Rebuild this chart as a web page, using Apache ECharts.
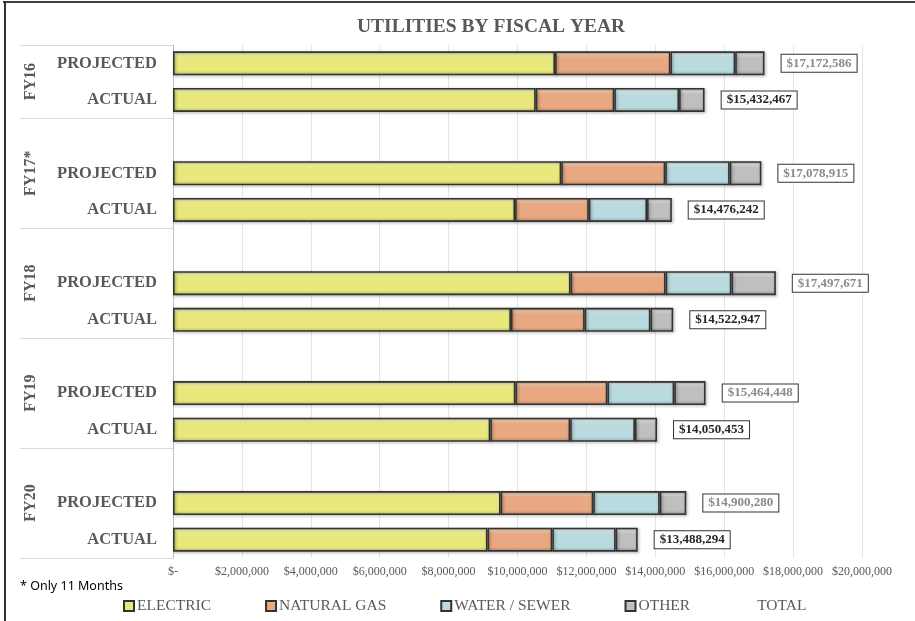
<!DOCTYPE html>
<html>
<head>
<meta charset="utf-8">
<script src="https://cdn.jsdelivr.net/npm/echarts@6/dist/echarts.min.js"></script>
<style>
  html, body { margin: 0; padding: 0; background: #fff; }
  #chart { width: 915px; height: 621px; }
</style>
</head>
<body>
<div id="chart"></div>
<script>
// ---- Data (row order: FY16 P, FY16 A, FY17 P, FY17 A, ... FY20 A) ----
const years = ['FY16', 'FY17*', 'FY18', 'FY19', 'FY20'];
const rowTypes = ['PROJECTED', 'ACTUAL'];
const electric   = [11090000, 10530000, 11270000, 9930000, 11540000, 9810000, 9940000, 9210000, 9510000, 9130000];
const naturalGas = [3350000, 2280000, 3020000, 2140000, 2760000, 2140000, 2670000, 2320000, 2690000, 1880000];
const waterSewer = [1880000, 1880000, 1870000, 1690000, 1910000, 1910000, 1940000, 1880000, 1930000, 1840000];
const other      = [850000, 740000, 920000, 720000, 1290000, 660000, 910000, 640000, 770000, 640000];
const totals     = [17172586, 15432467, 17078915, 14476242, 17497671, 14522947, 15464448, 14050453, 14900280, 13488294];
const xTicks = [0, 2000000, 4000000, 6000000, 8000000, 10000000, 12000000, 14000000, 16000000, 18000000, 20000000];
const footnote = '* Only 11 Months';

// ---- Build category rows (blank spacer row before each year except the first) ----
const categories = [];
const rowIndex = [];
const groups = [];
const boundaries = [];
years.forEach((y, i) => {
  const g = [];
  boundaries.push(categories.length);
  if (i > 0) { g.push(categories.length); categories.push(y + '|'); }
  rowTypes.forEach(t => {
    g.push(categories.length);
    rowIndex.push(categories.length);
    categories.push(y + '|' + t);
  });
  groups.push(g);
});
function spread(arr, mapFn) {
  const out = categories.map(() => '-');
  arr.forEach((v, k) => { out[rowIndex[k]] = mapFn ? mapFn(v, k) : v; });
  return out;
}
function money(v) { return '$' + Math.round(v).toLocaleString('en-US'); }

function grad(light, base, dark) {
  return new echarts.graphic.LinearGradient(0, 0, 0, 1, [
    { offset: 0, color: base },
    { offset: 0.12, color: light },
    { offset: 0.25, color: base },
    { offset: 0.8, color: base },
    { offset: 1, color: dark }
  ]);
}
const segStyle = (c) => ({
  color: c,
  borderColor: '#333333',
  borderWidth: 1.6,
  shadowBlur: 3,
  shadowColor: 'rgba(0,0,0,0.4)',
  shadowOffsetX: 1,
  shadowOffsetY: 1
});

const BW = 24;
const serif = 'Liberation Serif';

const chart = echarts.init(document.getElementById('chart'), null, { renderer: 'canvas' });
const option = {
  animation: false,
  backgroundColor: '#fff',
  title: {
    text: 'UTILITIES BY FISCAL YEAR',
    left: 357, top: 17, padding: 0,
    textStyle: { fontFamily: serif, fontWeight: 'bold', fontSize: 19.5, color: '#595959' }
  },
  grid: { left: 173, right: 53, top: 45, bottom: 63, containLabel: false },
  legend: {
    left: 123, top: 598, padding: 0,
    icon: 'rect',
    itemWidth: 10, itemHeight: 10, itemGap: 54,
    textStyle: { fontFamily: serif, fontSize: 15.5, color: '#595959', padding: [0, 0, 0, -2] },
    data: ['ELECTRIC', 'NATURAL GAS', 'WATER / SEWER', 'OTHER', 'TOTAL'],
    selectedMode: false
  },
  xAxis: {
    type: 'value', min: 0, max: xTicks[xTicks.length - 1], interval: xTicks[1] - xTicks[0],
    axisLine: { show: false }, axisTick: { show: false },
    splitLine: { lineStyle: { color: '#e4e4e4', width: 1 } },
    axisLabel: {
      margin: 8, fontFamily: serif, fontSize: 12, color: '#595959',
      formatter: v => v === 0 ? '$-' : money(v)
    }
  },
  yAxis: {
    type: 'category', inverse: true, data: categories,
    axisLine: { show: true, lineStyle: { color: '#bfbfbf', width: 1 } },
    axisTick: {
      show: true, length: 153,
      interval: (idx) => boundaries.indexOf(idx) >= 0,
      lineStyle: { color: '#d9d9d9', width: 1 }
    },
    axisLabel: {
      interval: 0, margin: 16,
      fontFamily: serif, fontWeight: 'bold', fontSize: 16.5, color: '#595959',
      formatter: v => v.split('|')[1]
    },
    splitLine: { show: false }
  },
  series: [
    { name: 'ELECTRIC', type: 'bar', stack: 'u', barWidth: BW, data: spread(electric),
      itemStyle: segStyle(grad('#f6f6b8', '#e8e87c', '#c9c95c')) },
    { name: 'NATURAL GAS', type: 'bar', stack: 'u', barWidth: BW, data: spread(naturalGas),
      itemStyle: segStyle(grad('#f6d2b8', '#e8a882', '#c98a64')) },
    { name: 'WATER / SEWER', type: 'bar', stack: 'u', barWidth: BW, data: spread(waterSewer),
      itemStyle: segStyle(grad('#e2f1f3', '#b9dbe0', '#97bcc2')) },
    { name: 'OTHER', type: 'bar', stack: 'u', barWidth: BW, data: spread(other),
      itemStyle: segStyle(grad('#e4e4e4', '#bfbfbf', '#9a9a9a')) },
    { name: 'TOTAL', type: 'bar', barWidth: BW, barGap: '-100%', silent: true, z: 1,
      itemStyle: { color: 'rgba(0,0,0,0)', borderWidth: 0 },
      data: spread(totals, (v, k) => ({
        value: v,
        label: { color: k % 2 === 0 ? '#8a8a8a' : '#262626' }
      })),
      label: {
        show: true, position: 'right', distance: 17,
        formatter: p => money(p.value),
        fontFamily: serif, fontWeight: 'bold', fontSize: 13, lineHeight: 14,
        backgroundColor: '#fff', borderColor: '#333', borderWidth: 1,
        padding: [2, 5, 1, 5]
      }
    }
  ]
};
chart.setOption(option);

// Year group labels (multi-level category), positioned via the category axis scale
const gfx = [];
years.forEach((y, i) => {
  const g = groups[i];
  const c = g.reduce((s, idx) => s + chart.convertToPixel({ yAxisIndex: 0 }, idx), 0) / g.length;
  gfx.push({
    type: 'text', x: 31, y: c, rotation: Math.PI / 2,
    style: { text: y, fontFamily: serif, fontWeight: 'bold', fontSize: 16, fill: '#595959',
             align: 'center', verticalAlign: 'middle' }
  });
});
gfx.push({ type: 'text', x: 20, y: 580,
  style: { text: footnote, fontFamily: 'Noto Sans', fontSize: 12.5, fill: '#000' } });
gfx.push({ type: 'line', shape: { x1: 3, y1: 2, x2: 915, y2: 2 }, style: { stroke: '#404040', lineWidth: 2 } });
gfx.push({ type: 'line', shape: { x1: 5, y1: 1, x2: 5, y2: 621 }, style: { stroke: '#303030', lineWidth: 2 } });
chart.setOption({ graphic: gfx });
</script>
</body>
</html>
